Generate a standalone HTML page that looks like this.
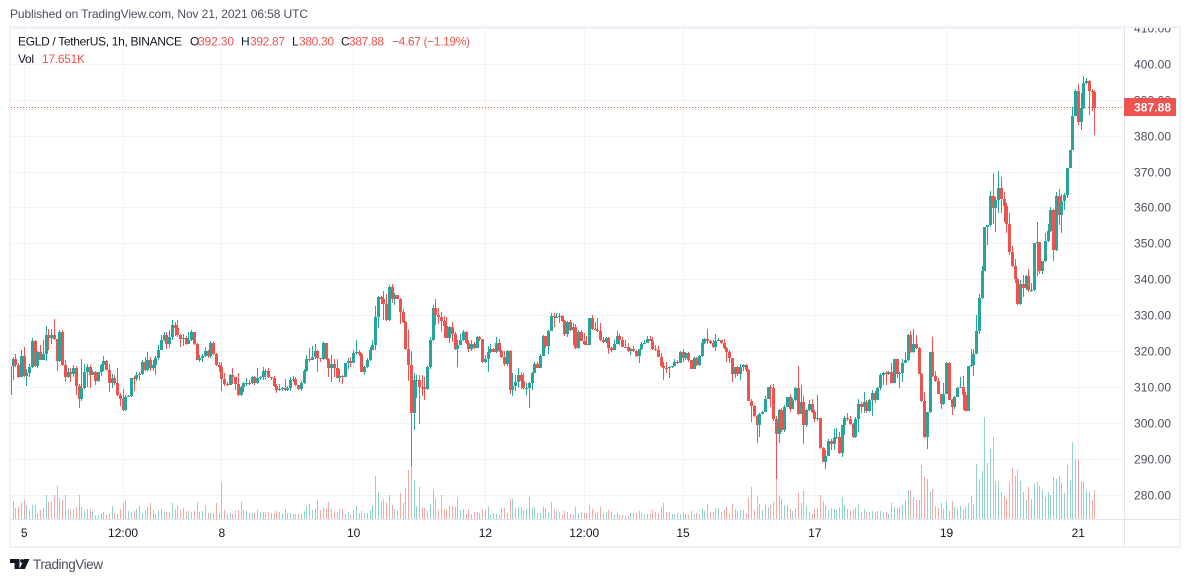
<!DOCTYPE html>
<html lang="en">
<head>
<meta charset="utf-8">
<title>EGLD / TetherUS chart</title>
<style>
html,body{margin:0;padding:0;background:#fff;}
body{width:1190px;height:582px;overflow:hidden;}
svg{display:block;}
text{font-family:"Liberation Sans",sans-serif;font-size:12px;fill:#131722;}
.dim{fill:#4a4e5a;}
.red{fill:#ef5350;}
</style>
</head>
<body>
<svg id="chart" width="1190" height="582" viewBox="0 0 1190 582" xmlns="http://www.w3.org/2000/svg">
  <defs>
    <clipPath id="pane-clip"><rect x="11" y="28" width="1113" height="491"/></clipPath>
    <clipPath id="axis-clip"><rect x="1125" y="28" width="54" height="491"/></clipPath>
  </defs>
  <rect width="1190" height="582" fill="#ffffff"/>
  <text class="dim" x="10" y="18" textLength="298" lengthAdjust="spacing">Published on TradingView.com, Nov 21, 2021 06:58 UTC</text>
  <g id="grid"></g>
  <g id="volumes" clip-path="url(#pane-clip)"></g>
  <line x1="11" x2="1124" y1="107.5" y2="107.5" stroke="#ef5350" stroke-width="1" stroke-dasharray="1 2"/>
  <g id="candles" clip-path="url(#pane-clip)"></g>
  <rect x="1124" y="28" width="1" height="519" fill="#e0e3eb"/>
  <rect x="11" y="519" width="1168" height="1" fill="#e0e3eb"/>
  <rect x="10" y="27" width="1170" height="520" fill="none" stroke="#f0f1f7" stroke-width="2"/>
  <g id="price-axis" clip-path="url(#axis-clip)"></g>
  <g id="time-axis"></g>
  <g>
    <rect x="1124" y="98" width="52" height="18" rx="1" fill="#ef5350"/>
    <text x="1134" y="111.5" textLength="37" lengthAdjust="spacing" style="fill:#fff;font-weight:bold;">387.88</text>
  </g>
  <g>
    <text x="18" y="45.5" textLength="164" lengthAdjust="spacing">EGLD / TetherUS, 1h, BINANCE</text>
    <text x="190" y="45.5">O</text>
    <text class="red" x="198" y="45.5" textLength="36" lengthAdjust="spacing">392.30</text>
    <text x="241" y="45.5">H</text>
    <text class="red" x="250" y="45.5" textLength="35" lengthAdjust="spacing">392.87</text>
    <text x="292" y="45.5">L</text>
    <text class="red" x="299" y="45.5" textLength="35" lengthAdjust="spacing">380.30</text>
    <text x="341" y="45.5">C</text>
    <text class="red" x="349" y="45.5" textLength="35" lengthAdjust="spacing">387.88</text>
    <text class="red" x="392" y="45.5" textLength="78" lengthAdjust="spacing">−4.67 (−1.19%)</text>
    <text x="18" y="63" textLength="16" lengthAdjust="spacing">Vol</text>
    <text class="red" x="42" y="63" textLength="43" lengthAdjust="spacing">17.651K</text>
  </g>
  <g>
    <path d="M10 559h9.5v10h-5v-6H10z M24 559h5.5l-4.6 10h-5.4z" fill="#131722"/>
    <circle cx="22" cy="561" r="1.9" fill="#131722"/>
    <text class="dim" x="33" y="569" textLength="70" lengthAdjust="spacing" style="font-size:13.5px;">TradingView</text>
  </g>
</svg>
<script>
const firstOpen = 307.9;
const closes = [
316,317.9,316.2,313,318.7,313.2,314.1,315.6,322.9,315.9,
319.8,317.6,319.3,324.5,323.7,324.7,323.4,317.3,325.4,316.2,
312.8,314.3,313.7,315.4,310.4,306.8,309.8,314.3,315.7,313.4,
314.3,311.8,314.3,316.2,317.3,314.8,311.3,312.6,311.1,307.9,
306.8,303.8,307.3,307.5,312.6,312.3,313.4,313.7,317,314.8,
317.6,315.3,316.2,318.1,320.4,323.3,324.5,322,324,327.3,
326.5,324.5,323.4,323.7,322,323.3,325.5,322,317.6,318.1,
318.7,320.1,318.7,322.3,319.3,316.2,315.7,312.3,311,310.8,
313.4,312.8,311,307.9,310.1,311.2,311.3,311.1,312.9,311.2,
312.5,312.8,314.5,314.6,312.9,312.6,310.4,309.3,309.6,309.8,
309.2,309.8,312,312.3,310.7,309.5,311.1,314.5,317.9,317.7,
318.4,320.1,318.2,317.9,322.3,317.9,315.4,316.4,315.3,312.7,
313.3,312.8,316.7,317.3,316.7,319.5,319.8,319.2,314.3,315.7,
317.6,320.4,321.8,329.6,335.1,334.6,333.1,328.7,337.9,334.7,
335.6,334.7,330.9,328.2,320.6,316.2,302.9,312,312.2,310.2,
310,309.6,315.7,323.1,332.2,330.1,329.6,328.5,327,323.8,
326.9,325,320.6,321.9,323.3,325.5,322.4,320.7,322.2,320.9,
323.9,323.4,317,318,319.8,320.6,320,322.3,320.1,318.4,
316.5,320.1,309.3,310.4,311.5,313.4,311.8,309.7,309.8,311.2,
314.1,316.5,315.4,318.7,324.3,321.5,325.7,329.8,329.5,329.6,
329.8,328.4,324.8,328.2,325.9,326.9,320.9,325.5,323,322,
321.8,329.3,326.2,326.1,325.7,323.1,322.6,323.7,320.9,320.5,
322.2,324.3,323.2,321.3,321.2,320.2,320.8,320.1,318.7,320.6,
322.2,322.4,323.6,323,320.8,320.4,318.6,316,315.4,315.3,
315.6,315.9,317.2,316.8,319.9,318.2,319.5,317.6,315.1,318.3,
316.2,318.7,322.3,323.4,322.8,322.4,321.3,323,323.1,322.5,
320.9,320,318.1,313.7,315.6,313.6,315.6,316.2,314.8,306.3,
304.8,302,299.6,302.6,303.1,306.7,310,309.8,301.3,297,
303.7,298,304.5,307.2,304.1,306.5,309.8,302.6,305.9,299.5,
303.7,305.4,303.1,301.3,301.5,293,289.3,290.9,295.1,294.3,
295.9,296.3,291.7,299.5,301.6,301.1,299.7,296.2,301.2,305.4,
304.6,305.9,303.4,306.5,308.4,306.5,309.8,313.4,314.1,313.7,
314.3,311.3,317.9,313.7,314,316.9,317.6,324.5,319.8,322.2,
321.1,313.7,306.3,296.3,303.1,319.8,313.1,311.7,308.2,305.5,
308.3,316.9,306.6,304.6,307.2,309.7,310.2,308,303.5,315.9,
316.2,319.2,325.8,335,342.5,354.8,355.2,363.3,360,362.2,
365.6,362.6,360.4,355.6,347.6,343.9,340.2,333.1,338.7,337.6,
340.9,337,337,350.1,350.4,342.3,345.2,350.7,353.5,359.4,
348.3,363.3,358.1,362,363.7,371.1,376.1,385.6,392.6,384,
387.7,394.8,395.4,392.6,392.3,387.88
];
const highs = [
316.2,318.4,319.3,316.7,320.4,321.2,315,316.5,323.7,323.3,
320.2,321.8,323.1,327,326.2,326.4,329,323.5,325.9,325.9,
317.6,315.5,315.5,316.3,316,311,318,316.5,316.5,316.2,
314.8,314.5,314.4,316.5,318.7,317.6,316.5,313.7,313.5,315.5,
308.4,309.5,307.8,308,312.7,313.2,314.3,314.3,317.6,318.4,
320,318.4,317.6,318.7,321.8,324.5,325.3,325.3,325.9,328.7,
328.1,328.7,324.8,324.8,324.4,325.3,325.9,325.5,322.5,319,
319.3,321.3,320.4,322.9,322.6,319.7,317,317,313.9,311.5,
313.7,315.4,313,313.9,310.5,311.5,312.6,312.1,313.2,313.2,
315.4,313.2,315.7,315.1,315.4,313,313.2,311,311,310.2,
312.4,310.3,312.8,313.2,313,310.8,311.8,315,319,320.9,
321.5,322,320.4,318.2,322.6,322.5,318.3,319,318,318,
315.1,313.4,316.8,318.3,318.5,320.4,323.1,320.4,319.6,315.9,
318.1,321.3,323.1,332.6,335.5,335.4,336.8,336.1,338.4,338.7,
336.3,335.7,334.8,331.7,328.5,325.9,320.1,313.9,313.4,313.4,
313.4,313,315.9,324.1,332.9,334.5,332.2,331,330,329.6,
327,328.1,325.3,323.1,325,326.1,325.7,323.3,323.3,322.6,
324.4,324.3,323.6,319.1,321.5,322.2,321.1,324,323.6,320.5,
320.2,320.3,320.3,313.9,313.4,315.3,314.3,313.9,311.1,311.5,
314.3,317.1,317.1,319.4,324.5,324.4,326.1,330.6,330.8,330.8,
330.6,330.2,328.9,328.5,328.7,327.8,327.6,325.9,325.9,325.2,
324.3,329.4,330.1,328.1,329.2,327.8,324.1,324.1,324.1,321.2,
323.1,325.6,325,324.1,323.3,322.4,321.1,321.5,320.4,320.8,
322.6,323.3,324.3,324.3,324.1,321.7,321.5,319.7,317.1,317,
315.9,316.1,317.8,317.6,320.2,320.6,319.8,319.9,317.7,318.6,
318.6,319,323.6,323.7,326.2,323.3,323.1,324.8,323.7,323.3,
323.6,321.3,320.4,318.3,315.8,315.9,316.5,316.5,316.5,315,
306.8,305.1,302.3,302.9,303.3,307.6,310,310.7,310.9,302,
304.1,304.2,305.1,307.4,308.1,307,310.2,315.9,310.6,307.6,
304,306.5,306.7,303.7,307.9,301.5,293.3,292.6,295.6,295.6,
298.3,298.6,297.6,299.6,301.9,302.8,301.9,300,301.8,306.8,
306,308.7,306.5,306.9,309.3,309.1,310,313.9,314.4,314.5,
314.6,316.7,318,318,314.3,317.8,319.9,324.8,325.6,326.2,
324.6,321.2,313.9,308.7,303.2,319.9,324,314.5,312.5,308.3,
311.1,317,317,306.8,307.5,310.2,313,313.1,308.8,316,
320.6,320.6,330.1,336.1,343.9,354.8,355.3,364.7,369.7,363.1,
370.3,368.7,364.4,361.3,358.5,349.3,345.7,340.5,339.8,341.2,
341.3,343,339,350.2,356.2,350.6,345.3,353,355.5,360.2,
359.8,364.5,365.3,364,364.2,371.2,376.2,388,393.2,394.4,
391.9,396.7,396.3,395.6,393,392.87
];
const lows = [
307.8,312,315.8,312.5,312.9,313,310.5,312.8,315.5,315.8,
315.5,317.5,317.6,317.4,320.4,322,323.3,314.5,317,315.9,
311.6,312.5,311.6,312.9,307.9,304.3,306.3,309.5,310.2,309.9,
313.4,310.8,311.5,313.2,314.7,314.8,308.8,309.8,310.6,307.6,
304.8,303.3,303.3,307.2,307.2,309,311.8,312,313.5,314.7,
314.5,314.7,314.6,313.4,317.5,320.3,323,320.7,321,323.2,
324.2,324,321.2,321.4,321.7,322.3,323,321.7,317.6,317.1,
317,318.6,318.2,318.2,319,315.9,314.3,309.1,310.4,310.3,
311,311,309.3,307.6,307.7,308.6,310.4,310.8,311,310.8,
310.9,312,312.2,312.4,312.5,312.2,310.2,308.5,308.9,308.9,
308.9,309,308.9,311.5,310.4,309.2,308.9,310.9,314.3,317.2,
317.7,318,314.2,317.2,317.5,317.5,312.9,311.5,312.9,312.6,
311.5,310.9,312.8,315.2,315.6,316.8,319.1,318.8,314.2,313.4,
315.4,317.4,320.3,320.3,326.5,333.1,328.9,328.6,328.5,333.5,
332.9,334.6,327.6,328,320.5,311.9,288.2,298.1,307,299.8,
307.6,306.5,309.3,315.2,323,327.5,327.7,325.3,323.8,323.7,
322.4,322.6,320.5,315.8,321.7,323,322.2,319.8,320.2,320.8,
320.9,323,316.8,316.7,314.4,319.5,319.8,319.7,320,318.2,
315.9,316,308.2,307.6,309,309.8,309.6,309.4,307.8,304.3,
309.3,314,315.3,315.4,318.7,320.9,319.2,325.7,326.8,329.3,
327.9,328.3,324.3,324.1,325.8,321.8,320.8,320.7,322.8,321.7,
321.7,321.7,326,326,325.5,323,322.3,322.3,319.2,319.8,
320.4,322,321.7,321.2,321,319.9,319,319.8,318.5,316.9,
320.4,322,322.3,322.8,320.4,320.2,318.5,315.8,312.1,314.1,
312.6,315.5,315.9,316.5,316.7,317.1,317.6,317.1,315,315,
316,316,318.5,322.1,322.1,322,321.1,320.2,322.8,322.2,
320.6,317.1,316.7,311.5,312.6,313.2,312.2,314.6,314.3,306.2,
300.4,301.8,294.6,296.2,302.7,306.2,309.7,304.6,300.7,284.6,
294.6,297.7,297.6,304.5,303.2,304,306.1,302.4,304,294.3,
299,303.5,302.9,300.4,300.6,292.9,289.2,287.3,291.6,292.5,
292.7,295.5,291.5,290.5,296.7,300.6,299.4,296,296,297.7,
303,302.8,302.8,303.2,302,305.6,307.2,309.3,310.6,310.6,
313.5,311.2,311.3,312.6,309.7,311.6,316.8,317.4,319.6,319.5,
320.8,313.6,306,295.9,292.9,303,312.9,311.5,308.1,304.1,
305.1,308.2,306.5,302.3,304,307.2,310,303.6,303.4,303.4,
315.7,313.3,319.2,325,334.6,342.3,349.7,354.7,355.4,353.3,
358.7,358.7,356.1,352.9,346.9,343.6,339.2,332.9,332.9,335.2,
337,336.6,336.6,336.9,341,341.5,341.6,345,350.4,353.3,
345.2,348,355.2,353.1,359.5,362.7,371,376,385.5,383.2,
381.6,387.5,394.4,385.8,387,380.3
];
const volumes = [
6.6,10.8,6.6,7.2,9.6,11.6,8.4,5.6,8.4,8.4,
3.6,5.4,6.6,14.4,10.4,10.4,14.4,20,12.6,11.4,
14.4,6,5.4,5.4,7.2,14.4,7.2,4.8,6,6,
4.8,2.4,2.4,3.6,4,2.4,3.6,8,3.6,3,
6,9.6,11.4,4.8,4,4.8,6,7.8,3.6,5.2,
7.2,9.6,5.4,3,4.8,6,4.4,4.4,4.2,9.6,
6,8.4,5.2,6.6,4.8,4.8,4.2,4.8,10.2,4.2,
4.8,8.4,3.6,3.6,3.6,9.6,3.6,22.2,5.4,3,
3.6,3,4.8,5.4,10.2,5.4,4.8,3.6,3.6,3.6,
5.4,4.2,4.2,4.2,4.2,3.6,3.6,4.8,4.2,3,
6,3.6,3.6,3,3,2.4,3,4.8,7.8,9,
5.4,6,11.4,5.4,7.2,6,10.2,6,4.8,4.2,
6,6,3,4.2,2.4,5.4,7.8,3.6,4.8,3.6,
3.6,5.4,8.4,26,16.4,10.8,12,9.6,14.4,8.4,
6,5.4,15.6,9.6,18.6,29.6,33,23.4,7.8,19.2,
7.2,6.6,4.8,9,17.4,12.6,5.4,14.4,6,5.4,
7.8,7.8,7.2,12.6,5.4,6,3,6,3,4.4,
4.4,3.6,6,5.4,7.2,2.4,3.6,3,2.4,6.6,
6.6,3.6,12,12,6.6,7.2,7.2,5.4,6,13.2,
6.6,7.2,3.6,3.6,7.2,6.6,4.2,10.2,6,4.8,
4.2,2.4,4.8,4.2,3,2.4,7.2,3.6,4.2,3.6,
3.6,8.4,6,3.6,4.2,7.2,3.6,4.2,5.4,4.2,
2.4,3.6,2.4,2.4,1.8,1.8,3.6,3.6,3.6,4.8,
3.6,3,3,3,5.4,4.2,3.6,7.2,9.6,4.2,
4.2,3,3,3.6,3,4.2,3,2.4,4.8,3,
3.6,3,6,4.8,9,4.2,4.2,6.6,6.6,4.2,
5.4,7.2,3,9,6,4.8,5.4,5.4,3,12.6,
19.2,5.4,13.8,9,5.4,9,7.2,8.4,10.2,41.6,
13.8,12,8.4,8.4,6,4.8,6,15.6,9.6,17.4,
7.8,4.2,3,6,6.6,14.4,10.8,8.4,5.4,6.6,
6,5.4,7.2,13.2,8.4,6,4.8,5.4,6.6,9,
4.2,6,4.2,4.2,4.8,4.2,4.8,4.8,4.2,4.2,
3,9.6,7.2,6.6,7.2,8.4,11.4,17.4,17.4,13.2,
11.4,11.4,32.4,25.2,24,16.2,18,7.8,6.6,9.6,
6,10.8,4.8,10.8,7.2,6.6,7.8,5.4,7.2,9.6,
13.8,9,33,24,28.8,61.2,33.6,42,49.2,22.8,
22.8,16.2,13.8,12,22.2,30.6,25.8,29.4,22.8,16.2,
11.4,19.2,12,21,22.2,19.8,17.4,13.2,16.2,14.4,
25.2,24,25.8,21.6,15.6,32.4,23.4,46.2,36,36,
22.8,22.2,17.4,16.2,11.4,17.65
];
const priceTicks = [410,400,390,380,370,360,350,340,330,320,310,300,290,280];
const timeTickIndex = [5,41,77,125,173,209,245,293,341,389];
const timeTickLabels = ["5","12:00","8","10","12","12:00","15","17","19","21"];

const UP = "#26a69a";
const DOWN = "#ef5350";
const NS = "http://www.w3.org/2000/svg";

function xScale(i) { return 10.5 + 2.745 * i; }
function yScale(p) { return 423.3 + (300 - p) * 3.59; }
function volHeight(v) { return v * 5 / 3; }

function make(tag, attrs) {
  const el = document.createElementNS(NS, tag);
  for (const k in attrs) el.setAttribute(k, attrs[k]);
  return el;
}

const gridG = document.getElementById("grid");
const priceG = document.getElementById("price-axis");
const timeG = document.getElementById("time-axis");
const volG = document.getElementById("volumes");
const candleG = document.getElementById("candles");

priceTicks.forEach(function (p) {
  const y = Math.floor(yScale(p));
  const line = make("rect", { x: 11, y: y, width: 1113, height: 1, fill: "#f0f3fa" });
  
  
  gridG.appendChild(line);
  const label = make("text", { x: 1134, y: y + 4.5, textLength: 37, lengthAdjust: "spacing", class: "dim" });
  
  
  label.textContent = p.toFixed(2);
  priceG.appendChild(label);
});

timeTickIndex.forEach(function (idx, n) {
  const x = xScale(idx);
  const line = make("rect", { x: Math.floor(x), y: 28, width: 1, height: 491, fill: "#f0f3fa" });
  
  
  gridG.appendChild(line);
  const label = make("text", { x: x, y: 537, "text-anchor": "middle" });
  
  
  label.textContent = timeTickLabels[n];
  timeG.appendChild(label);
});

closes.forEach(function (c, i) {
  const o = i === 0 ? firstOpen : closes[i - 1];
  const up = c >= o;
  const color = up ? UP : DOWN;
  const left = Math.round(xScale(i) - 1.5);

  const vh = Math.max(1, Math.round(volHeight(volumes[i])));
  const vol = make("rect", { x: left + 1, y: 519 - vh, width: 1, height: vh, fill: color, "fill-opacity": 0.5 });
  
  
  volG.appendChild(vol);

  const hy = Math.round(yScale(highs[i]));
  const ly = Math.round(yScale(lows[i]));
  const wick = make("rect", { x: left + 1, y: hy, width: 1, height: Math.max(1, ly - hy), fill: color });
  
  
  candleG.appendChild(wick);

  const top = Math.round(yScale(Math.max(o, c)));
  const bottom = Math.round(yScale(Math.min(o, c)));
  const body = make("rect", { x: left, y: top, width: 3, height: Math.max(1, bottom - top), fill: color });
  
  
  candleG.appendChild(body);
});
</script>
</body>
</html>
